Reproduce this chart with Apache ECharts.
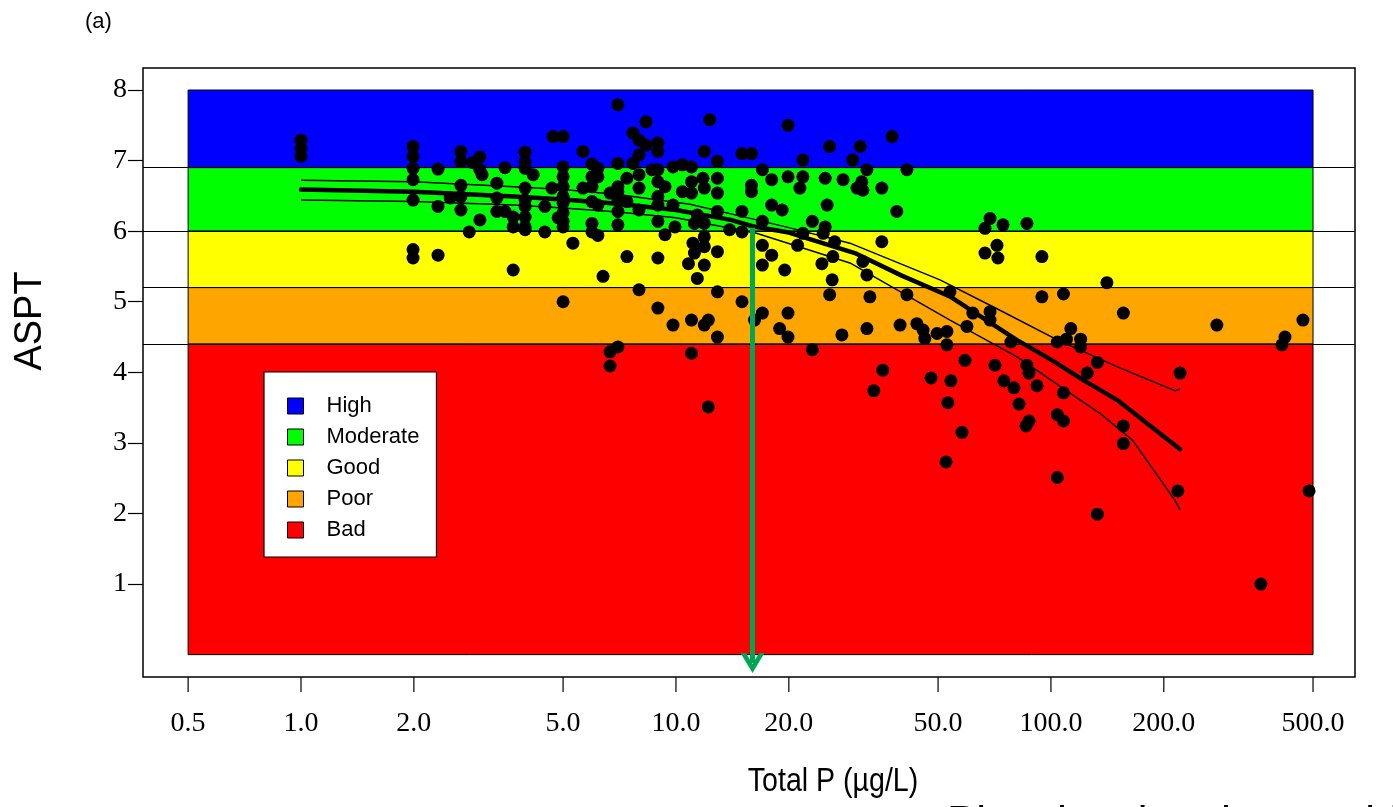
<!DOCTYPE html>
<html>
<head>
<meta charset="utf-8">
<script src="https://cdn.jsdelivr.net/npm/echarts@6/dist/echarts.min.js"></script>
<style>
html,body{margin:0;padding:0;background:#fff;}
#chart{width:1393px;height:807px;}
</style>
</head>
<body>
<div id="chart"></div>
<script>
// ---- data ----
const xTickValues = [0.5, 1, 2, 5, 10, 20, 50, 100, 200, 500];
const yTickValues = [1, 2, 3, 4, 5, 6, 7, 8];

const bandNames  = ['High', 'Moderate', 'Good', 'Poor', 'Bad'];
const bandColors = ['#0000FF', '#00FF00', '#FFFF00', '#FFA500', '#FF0000'];
const bandLower  = [6.9, 6.0, 5.2, 4.4, 0];
const bandUpper  = [8, 6.9, 6.0, 5.2, 4.4];
const bandXRange = [0.5, 500];
const classBoundaries = [6.9, 6.0, 5.2, 4.4];

// fitted curve and its confidence limits (Total P, ASPT)
const fitX = [1, 2, 3.7, 5, 7, 10, 14, 16, 20, 30, 40, 54, 81, 100, 122, 150, 221];
const fitY = [6.59, 6.56, 6.49, 6.45, 6.39, 6.30, 6.16, 6.07, 5.98, 5.69, 5.37, 5.07, 4.46, 4.18, 3.89, 3.61, 2.91];
const upperX = [1, 2, 3.7, 5, 7, 10.9, 16.4, 20, 29.1, 50.6, 73.1, 104, 150, 214, 221];
const upperY = [6.72, 6.70, 6.63, 6.59, 6.52, 6.38, 6.16, 6.05, 5.83, 5.31, 4.88, 4.46, 4.08, 3.74, 3.76];
const lowerX = [1, 2, 3.7, 5, 7, 10, 16.4, 29.1, 53.8, 81.2, 135, 165, 214, 221];
const lowerY = [6.44, 6.42, 6.37, 6.33, 6.27, 6.19, 5.97, 5.55, 4.74, 4.22, 3.42, 3.04, 2.19, 2.05];

// threshold arrow (Total P where fit crosses Good/Moderate boundary)
const arrowTP = 16.0;
const arrowFrom = 6.05;
const arrowTo = -0.12;

// observed sites [Total P, ASPT]
const samplePoints = [
  [1.00,7.29],[1.00,7.17],[1.00,7.06],
  [1.99,7.20],[1.99,7.06],[1.99,6.89],[1.99,6.73],[1.99,6.44],[1.99,5.74],[1.99,5.62],
  [2.32,6.88],[2.32,6.35],[2.32,5.66],[2.50,6.47],
  [2.67,7.13],[2.67,6.99],[2.67,6.65],[2.67,6.49],[2.67,6.30],
  [2.87,6.97],[3.00,7.05],[3.00,6.87],[3.00,6.16],[3.04,6.80],[2.81,5.99],
  [3.33,6.68],[3.33,6.47],[3.33,6.28],[3.50,6.90],[3.50,6.28],
  [3.68,6.20],[3.68,6.06],[3.68,5.45],
  [3.96,7.12],[3.96,6.98],[3.96,6.89],[3.96,6.61],[3.96,6.44],[3.96,6.35],[3.96,6.20],[3.96,6.06],[3.96,6.02],
  [4.16,6.80],[4.47,6.35],[4.47,5.99],[4.67,6.61],[4.70,7.34],
  [5.00,7.34],[5.00,6.91],[5.00,6.77],[5.00,6.63],[5.00,6.49],[5.00,6.40],[5.00,6.26],[5.00,6.14],[5.00,6.06],[5.00,5.00],
  [4.85,6.19],[5.31,5.83],[5.65,7.13],[5.65,6.61],
  [5.97,6.95],[5.97,6.77],[5.97,6.63],[5.97,6.42],[5.97,6.11],[5.97,5.99],
  [6.19,6.89],[6.19,6.77],[6.19,6.37],[6.19,5.94],[6.39,5.36],[6.67,6.54],
  [7.00,7.79],[7.00,6.96],[7.00,6.63],[7.00,6.56],[7.00,6.44],[7.00,6.28],[7.00,6.09],
  [7.40,6.75],[7.40,6.42],[7.40,5.64],[7.68,7.39],[7.68,6.96],
  [7.97,7.29],[7.97,7.08],[7.97,6.80],[7.97,6.61],[7.97,6.30],[7.97,5.17],
  [8.32,7.55],[8.32,7.22],[8.63,6.87],
  [8.95,7.25],[8.95,7.13],[8.95,6.87],[8.95,6.70],[8.95,6.49],[8.95,6.37],[8.95,6.14],[8.95,5.62],[8.95,4.91],
  [9.35,6.63],[9.35,5.95],[9.82,6.91],[9.82,6.37],[9.82,4.67],[9.94,6.06],
  [10.4,6.94],[10.4,6.56],[10.8,5.54],
  [7.00,4.36],[6.67,4.29],[6.67,4.09],
  [12.3,7.58],[11.9,7.13],[12.9,6.99],[11.0,6.91],[11.8,6.75],[12.9,6.75],[11.0,6.70],[11.9,6.61],
  [12.9,6.54],[11.0,6.54],[12.9,6.28],[11.4,6.23],[11.9,6.11],[11.2,6.11],[13.9,6.02],[15.0,5.99],
  [11.9,5.92],[11.1,5.83],[11.9,5.78],[12.9,5.71],[11.2,5.69],[11.9,5.52],[11.4,5.33],[12.9,5.14],
  [15.0,5.00],[11.0,4.74],[12.2,4.74],[11.9,4.67],[12.9,4.50],[11.0,4.27],[12.2,3.51],
  [15.0,7.10],[15.9,7.10],[17.0,6.87],[15.9,6.65],[15.9,6.56],[18.0,6.73],[18.0,6.37],[19.2,6.30],
  [15.0,6.28],[17.0,6.14],[17.0,5.80],[18.0,5.66],[17.0,5.52],[19.5,5.45],[17.0,4.84],[16.2,4.74],
  [18.9,4.62],[19.9,4.50],[19.9,4.84],[23.1,4.32],
  [19.9,7.50],[21.8,7.01],[19.9,6.77],[21.8,6.77],[21.4,6.61],[25.0,6.75],[25.7,7.20],[27.9,6.73],
  [31.0,7.20],[29.6,7.01],[32.3,6.87],[31.3,6.70],[30.4,6.61],[31.5,6.58],[35.4,6.61],[37.7,7.34],
  [41.3,6.87],[38.8,6.28],[25.3,6.37],[23.1,6.14],[25.0,6.06],[24.7,5.97],[21.8,5.97],[21.1,5.80],
  [26.5,5.85],[26.2,5.64],[24.5,5.54],[31.5,5.57],[32.3,5.38],[35.4,5.85],[26.1,5.31],[25.7,5.10],
  [32.9,5.07],[41.3,5.10],[32.3,4.62],[27.7,4.53],[39.6,4.67],[43.9,4.69],[45.6,4.60],[46.1,4.48],
  [49.7,4.55],[52.8,4.58],[52.8,4.39],[59.7,4.65],[61.9,4.84],[68.8,4.86],[53.8,5.14],[68.8,4.74],
  [94.6,5.07],[94.6,5.64],[68.8,6.18],[66.7,6.04],[74.5,6.09],[86.3,6.11],[66.7,5.69],[71.8,5.80],
  [72.2,5.62],[59.0,4.17],[70.9,4.10],[86.3,4.10],[35.6,4.03],
  [221,3.99],[156,4.84],[277,4.67],[421,4.50],[413,4.39],[470,4.74],[141,5.27],[133,4.14],
  [125,3.99],[120,4.47],[120,4.36],[113,4.62],[110,4.47],[104,4.43],[108,5.11],[108,3.71],
  [104,3.40],[108,3.31],[156,3.24],[156,2.99],[218,2.32],[488,2.32],[363,1.00],[133,1.99],
  [104,2.51],[91.8,3.81],[87.4,3.31],[85.8,3.24],[82.2,3.55],[79.7,3.78],[74.9,3.88],[87.4,3.99],
  [54.1,3.88],[47.9,3.92],[53.1,3.57],[57.9,3.15],[52.5,2.73],[33.7,3.74],[78.2,4.43]
];

// ---- chart ----
const chart = echarts.init(document.getElementById('chart'));
const sans = "'Liberation Sans', Arial, sans-serif";
const serif = "'Liberation Serif', 'Times New Roman', serif";

const zip = (xs, ys) => xs.map((x, i) => [x, ys[i]]);

const bandSeries = bandNames.map((name, i) => ({
  name: name,
  type: 'scatter',
  data: [],
  z: 1,
  itemStyle: { color: bandColors[i], borderColor: '#000', borderWidth: 1, opacity: 1 },
  markArea: {
    silent: true,
    itemStyle: { color: bandColors[i], borderColor: '#000', borderWidth: 1, opacity: 1 },
    data: [[{ coord: [bandXRange[0], bandLower[i]] }, { coord: [bandXRange[1], bandUpper[i]] }]]
  }
}));

const option = {
  animation: false,
  backgroundColor: '#fff',
  grid: {
    left: 143, right: 38, top: 68, bottom: 130,
    show: true, borderColor: '#000', borderWidth: 1.5, backgroundColor: 'transparent'
  },
  legend: {
    data: bandNames,
    orient: 'vertical',
    left: 264, top: 372,
    padding: [23, 17, 16, 23],
    itemGap: 9,
    itemWidth: 16, itemHeight: 16,
    icon: 'rect',
    backgroundColor: '#fff',
    borderColor: '#000', borderWidth: 1.2,
    borderRadius: 0,
    selectedMode: false,
    itemStyle: { opacity: 1, borderColor: '#000', borderWidth: 1 },
    textStyle: { fontFamily: sans, fontSize: 22, color: '#000', lineHeight: 20, height: 20, padding: [0, 0, 0, 18] }
  },
  xAxis: {
    type: 'log', logBase: 10, min: 0.379, max: 647,
    axisLine: { show: false }, axisTick: { show: false }, axisLabel: { show: false },
    splitLine: { show: false }
  },
  yAxis: {
    type: 'value', min: -0.317, max: 8.312,
    axisLine: { show: false },
    axisTick: { show: true, customValues: yTickValues, length: 15, inside: false, lineStyle: { color: '#000', width: 1.2 } },
    axisLabel: { customValues: yTickValues, fontFamily: serif, fontSize: 28, color: '#000', margin: 16 },
    splitLine: { show: false }
  },
  graphic: [
    { type: 'text', left: 85, top: 11, style: { text: '(a)', font: '22px ' + sans, fill: '#000' } },
    { type: 'text', x: 31, y: 321, rotation: Math.PI / 2,
      style: { text: 'ASPT', font: '38px ' + sans, fill: '#000', align: 'center', verticalAlign: 'middle' } },
    { type: 'text', x: 833, y: 782, scaleX: 0.84,
      style: { text: 'Total P (µg/L)', font: '34px ' + sans, fill: '#000', align: 'center', verticalAlign: 'middle' } },
    { type: 'text', x: 947, y: 825,
      style: { text: 'Plot showing the combined', font: '44px ' + sans, fill: '#000', align: 'left', verticalAlign: 'middle' } }
  ],
  series: [
    ...bandSeries,
    {
      type: 'line', data: [], z: 2, silent: true,
      markLine: {
        silent: true, symbol: 'none',
        label: { show: false },
        lineStyle: { color: '#000', width: 1.2, type: 'solid' },
        data: classBoundaries.map(v => ({ yAxis: v }))
      }
    },
    { type: 'line', data: zip(upperX, upperY), symbol: 'none', z: 3, silent: true,
      lineStyle: { color: '#000', width: 1.5 } },
    { type: 'line', data: zip(lowerX, lowerY), symbol: 'none', z: 3, silent: true,
      lineStyle: { color: '#000', width: 1.5 } },
    { type: 'line', data: zip(fitX, fitY), symbol: 'none', z: 3, silent: true,
      lineStyle: { color: '#000', width: 4.5, cap: 'round' } },
    { type: 'scatter', data: samplePoints, symbol: 'circle', symbolSize: 13, z: 4, silent: true,
      itemStyle: { color: '#000', opacity: 1 } },
    {
      type: 'line', data: [], z: 5, silent: true,
      markLine: {
        silent: true,
        symbol: ['none', 'path://M10,0 L20,12 L15.5,12 L10,5.5 L4.5,12 L0,12 Z'],
        symbolSize: [24, 20],
        label: { show: false },
        lineStyle: { color: '#00A651', width: 5, type: 'solid' },
        itemStyle: { color: '#00A651' },
        data: [[{ coord: [arrowTP, arrowFrom] }, { coord: [arrowTP, arrowTo] }]]
      }
    },
    {
      type: 'custom', z: 6, silent: true, clip: false,
      data: xTickValues.map(v => [v]),
      encode: { x: 0 },
      renderItem: function (params, api) {
        const v = api.value(0);
        const cs = params.coordSys;
        const bottom = cs.y + cs.height;
        const px = api.coord([v, 0])[0];
        return {
          type: 'group',
          children: [
            { type: 'line', shape: { x1: px, y1: bottom, x2: px, y2: bottom + 15 },
              style: { stroke: '#000', lineWidth: 1.2 } },
            { type: 'text', style: { text: v.toFixed(1), x: px, y: bottom + 33, align: 'center', verticalAlign: 'top',
              fontFamily: serif, fontSize: 28, fill: '#000' } }
          ]
        };
      }
    }
  ]
};
chart.setOption(option);
</script>
</body>
</html>
